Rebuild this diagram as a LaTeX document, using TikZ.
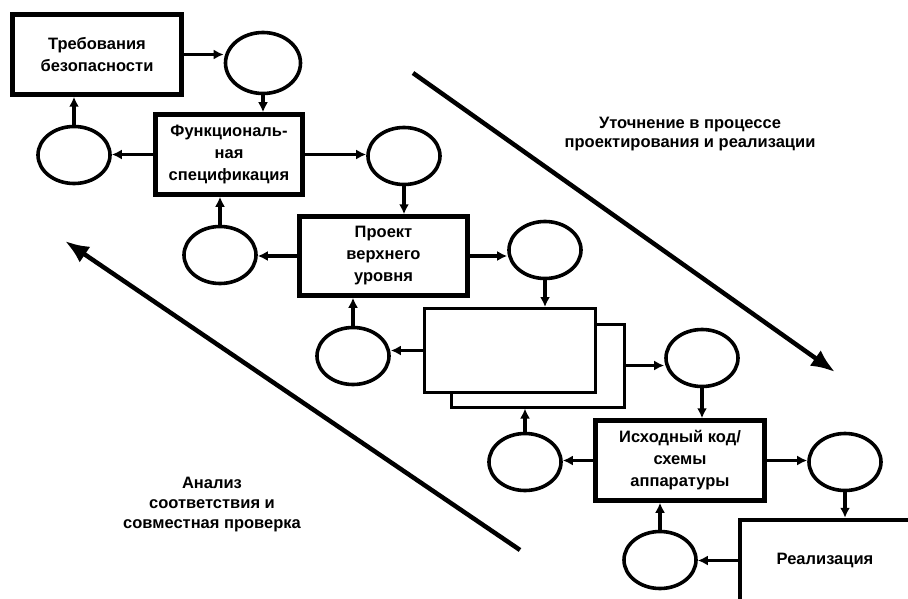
\documentclass[tikz,border=0pt]{standalone}
\usepackage{fontspec}
\setmainfont{Liberation Sans}
\usetikzlibrary{arrows.meta,shapes.geometric}
\tikzset{
  box/.style={draw, line width=4.5pt, fill=white, inner sep=0pt, align=center,
    font=\bfseries\fontsize{16.5}{22}\selectfont},
  thinbox/.style={draw, line width=3pt, fill=white, inner sep=0pt},
  ell/.style={draw, ellipse, line width=3.6pt, inner sep=0pt, minimum width=72pt, minimum height=57pt},
  arr/.style={line width=3.4pt, -{Latex[length=10pt,width=10pt]}},
  bigarr/.style={line width=4.5pt, -{Latex[length=24pt,width=19pt]}},
  lbl/.style={align=center, font=\bfseries\fontsize{16.5}{19}\selectfont}
}
\begin{document}
\begin{tikzpicture}[x=1pt,y=-1pt]
\useasboundingbox (0,0) rectangle (908,599);
\clip (0,0) rectangle (908,599);
\fill[white] (0,0) rectangle (908,599);

% boxes
\node[box, minimum width=169pt, minimum height=80pt] (b1) at (97,54.5) {Требования\\безопасности};
\node[box, minimum width=147pt, minimum height=80pt] (b2) at (229,154.5) {Функциональ-\\ная\\спецификация};
\node[box, minimum width=168pt, minimum height=79pt] (b3) at (383.5,256) {Проект\\верхнего\\уровня};
\node[thinbox, minimum width=173pt, minimum height=83pt] (b4b) at (538,365.5) {};
\node[thinbox, minimum width=171pt, minimum height=84pt] (b4) at (510,350.5) {};
\node[box, minimum width=169pt, minimum height=80pt] (b5) at (680,460.5) {Исходный код/\\схемы\\аппаратуры};
\node[box, minimum width=170pt, minimum height=81pt] (b6) at (825,560.5) {Реализация};

% ellipses
\node[ell, minimum width=75pt, minimum height=61pt] (e1) at (263,63) {};
\node[ell] (eL1) at (74,155) {};
\node[ell] (eR2) at (404,156) {};
\node[ell] (eL2) at (220,255) {};
\node[ell] (eR3) at (545,250) {};
\node[ell] (eL3) at (353,356) {};
\node[ell] (eR4) at (702,358) {};
\node[ell] (eL4) at (525,462) {};
\node[ell] (eR5) at (845,462) {};
\node[ell] (eB5) at (660,560) {};

% connectors
\draw[arr] (b1.east) -- (b1.east -| e1.west);
\draw[arr] (e1.south) -- (e1.south |- b2.north);
\draw[arr] (b2.west) -- (b2.west -| eL1.east);
\draw[arr] (eL1.north) -- (eL1.north |- b1.south);
\draw[arr] (b2.east) -- (b2.east -| eR2.west);
\draw[arr] (eR2.south) -- (eR2.south |- b3.north);
\draw[arr] (eL2.north) -- (eL2.north |- b2.south);
\draw[arr] (b3.west) -- (b3.west -| eL2.east);
\draw[arr] (b3.east) -- (b3.east -| eR3.west);
\draw[arr] (eR3.south) -- (eR3.south |- b4.north);
\draw[arr] (eL3.north) -- (eL3.north |- b3.south);
\draw[arr] (b4.west) -- (b4.west -| eL3.east);
\draw[arr] (b4b.east) -- (b4b.east -| eR4.west);
\draw[arr] (eR4.south) -- (eR4.south |- b5.north);
\draw[arr] (eL4.north) -- (eL4.north |- b4b.south);
\draw[arr] (b5.west) -- (b5.west -| eL4.east);
\draw[arr] (b5.east) -- (b5.east -| eR5.west);
\draw[arr] (eR5.south) -- (eR5.south |- b6.north);
\draw[arr] (eB5.north) -- (eB5.north |- b5.south);
\draw[arr] (b6.west) -- (b6.west -| eB5.east);

% diagonal arrows
\coordinate (d1s) at (413,73);
\coordinate (d1e) at (835,372);
\coordinate (d2s) at (520,550);
\coordinate (d2e) at (65,241);
\draw[bigarr] (d1s) -- (d1e);
\draw[bigarr] (d2s) -- (d2e);

% labels
\node[lbl] (t1) at (690,134) {Уточнение в процессе\\проектирования и реализации};
\node[lbl, font=\bfseries\fontsize{16.5}{20}\selectfont] (t2) at (212,505) {Анализ\\соответствия и\\совместная проверка};
\end{tikzpicture}
\end{document}
